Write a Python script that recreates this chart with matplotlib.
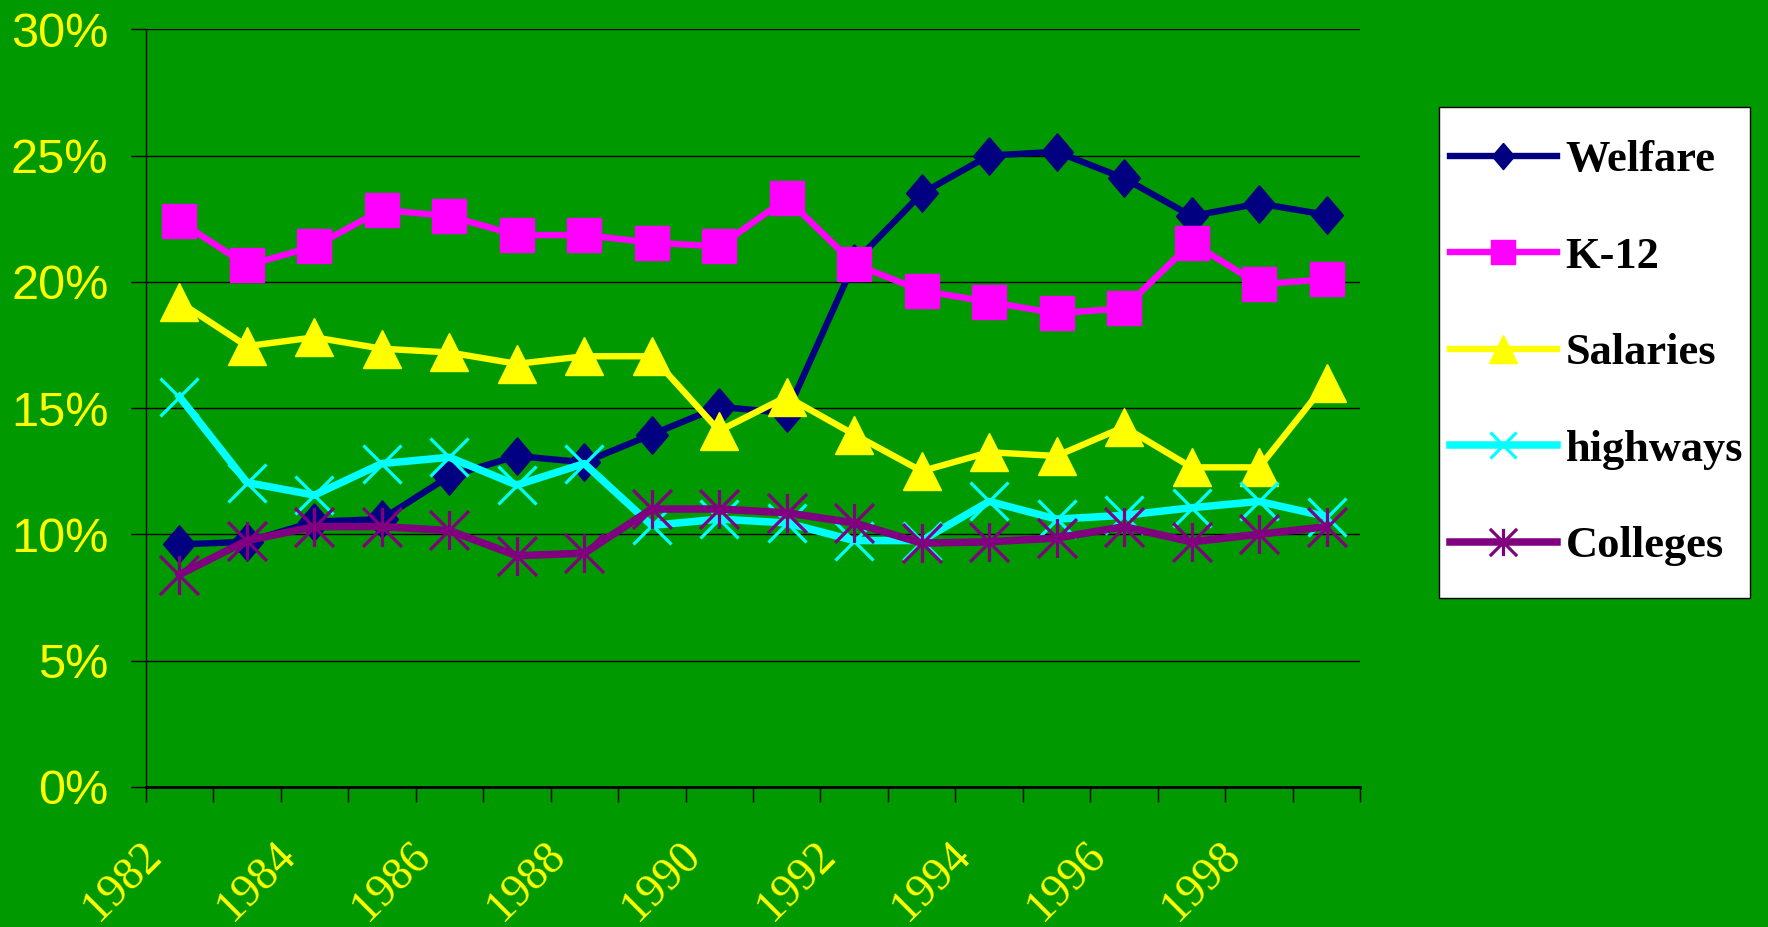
import numpy as np
import matplotlib
matplotlib.use('Agg')
import matplotlib.pyplot as plt
import matplotlib.transforms as mtransforms
from matplotlib.path import Path
from matplotlib.patches import Rectangle

# share of spending, percent
years = list(range(1982, 2000))
welfare = [9.6, 9.7, 10.5, 10.6, 12.3, 13.1, 12.85, 13.95, 15.05, 14.8,
           20.75, 23.5, 25.0, 25.15, 24.1, 22.6, 23.1, 22.65]
k12 = [22.4, 20.65, 21.4, 22.85, 22.6, 21.85, 21.85, 21.55, 21.4, 23.3,
       20.7, 19.65, 19.2, 18.75, 18.95, 21.55, 19.9, 20.1]
salaries = [19.2, 17.45, 17.8, 17.35, 17.2, 16.75, 17.05, 17.05, 14.1, 15.45,
            13.95, 12.5, 13.25, 13.1, 14.25, 12.65, 12.65, 16.0]
highways = [15.45, 12.05, 11.55, 12.8, 13.05, 11.95, 12.8, 10.35, 10.6, 10.45,
            9.75, 9.75, 11.3, 10.6, 10.75, 11.05, 11.3, 10.7]
colleges = [8.4, 9.75, 10.3, 10.3, 10.15, 9.15, 9.25, 11.0, 11.0, 10.85,
            10.45, 9.65, 9.7, 9.85, 10.3, 9.7, 10.0, 10.3]
yticks = [0, 5, 10, 15, 20, 25, 30]

GREEN = '#009900'

# excel style markers
diamond = [(0, 1), (0.85, 0), (0, -1), (-0.85, 0), (0, 1)]
asterisk = Path([(0, -1), (0, 1), (-1, -1), (1, 1), (-1, 1), (1, -1)],
                [Path.MOVETO, Path.LINETO] * 3)

fig = plt.figure(figsize=(17.68, 9.27), dpi=100, facecolor=GREEN)
ax = fig.add_axes([0.0824, 0.1513, 0.687, 0.8171])
ax.set_facecolor(GREEN)

x = np.arange(len(years))
ax.plot(x, welfare, color='#000080', lw=4.6, marker=diamond, ms=27, label='Welfare')
ax.plot(x, k12, color='#FF00FF', lw=4.6, marker='s', ms=25, label='K-12')
ax.plot(x, salaries, color='#FFFF00', lw=4.6, marker='^', ms=28, label='Salaries')
ax.plot(x, highways, color='#00FFFF', lw=5.4, marker='x', ms=27, mew=2.3, label='highways')
ax.plot(x, colleges, color='#800080', lw=5.4, marker=asterisk, ms=28, mew=2.3, label='Colleges')

ax.set_xlim(-0.5, len(years) - 0.5)
ax.set_ylim(0, 30)

# y axis
ax.set_yticks(yticks)
ax.set_yticklabels([f'{v}%' for v in yticks], fontfamily='Liberation Sans')
ax.yaxis.grid(True, color='black', lw=1)
ax.set_axisbelow(True)
ax.tick_params(axis='y', direction='out', length=10.8, width=1, color='black',
               labelcolor='yellow', labelsize=35, pad=16)

for s in ['top', 'right']:
    ax.spines[s].set_visible(False)
ax.spines['left'].set_color('black')
ax.spines['left'].set_linewidth(1)
ax.spines['bottom'].set_color('black')
ax.spines['bottom'].set_linewidth(2)

# x axis: ticks between categories, labels every other year
ax.set_xticks(x[::2])
ax.set_xticklabels([str(y) for y in years[::2]])
ax.set_xticks(np.arange(-0.5, len(years), 1), minor=True)
ax.tick_params(axis='x', which='major', length=0, pad=34, labelsize=33, labelcolor='yellow')
ax.tick_params(axis='x', which='minor', direction='out', length=10.8, width=1, color='black')
shift = mtransforms.ScaledTranslation(-0.1, 0, fig.dpi_scale_trans)
for lab in ax.get_xticklabels():
    lab.set_fontfamily('Liberation Serif')
    lab.set_rotation(45)
    lab.set_ha('right')
    lab.set_va('top')
    lab.set_transform(lab.get_transform() + shift)

# legend with a plain white box behind it
W, H = 1768, 927
box = Rectangle((1439 / W, 1 - 598 / H), (1750 - 1439) / W, (598 - 107) / H,
                transform=fig.transFigure, facecolor='white', edgecolor='black',
                lw=1, zorder=1)
fig.add_artist(box)
handles, labels = ax.get_legend_handles_labels()
leg = fig.legend(handles, labels, loc='upper left',
                 bbox_to_anchor=(1450 / W, 1 - 140 / H), frameon=False,
                 prop={'family': 'Liberation Serif', 'weight': 'bold', 'size': 32},
                 handlelength=2.4, handletextpad=0.2, labelspacing=1.27,
                 borderpad=0, borderaxespad=0, markerscale=0.7)
leg.set_zorder(5)

fig.savefig('out.png', dpi=100, facecolor=fig.get_facecolor())
